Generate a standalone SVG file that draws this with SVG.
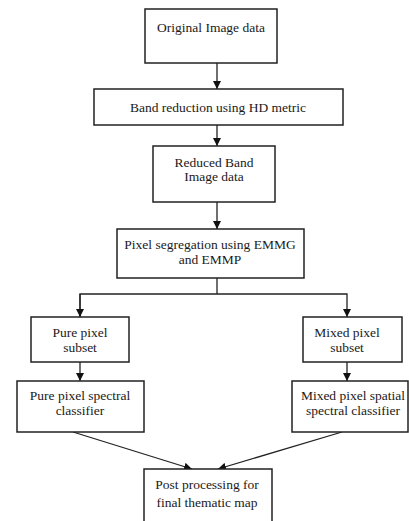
<svg xmlns="http://www.w3.org/2000/svg" width="409" height="521" viewBox="0 0 409 521">
<style>
.box{fill:#fff;stroke:#222;stroke-width:1.5}
.t{font-family:'Liberation Serif','Times New Roman',Times,serif;font-size:13.5px;fill:#1a1a1a;text-anchor:middle}
.c{fill:none;stroke:#222;stroke-width:1.3}
</style>
<defs>
<marker id="ah" viewBox="0 0 10 10" refX="10" refY="5" markerWidth="8" markerHeight="8" markerUnits="userSpaceOnUse" orient="auto">
<path d="M0,0 L10,5 L0,10 z" fill="#111"/>
</marker>
</defs>
<rect width="409" height="521" fill="#fff"/>
<g id="connectors">
<line class="c" x1="217" y1="63" x2="217" y2="89" marker-end="url(#ah)"/>
<line class="c" x1="217" y1="125" x2="217" y2="146" marker-end="url(#ah)"/>
<line class="c" x1="217" y1="202" x2="217" y2="229" marker-end="url(#ah)"/>
<line class="c" x1="217" y1="278" x2="217" y2="294"/>
<polyline class="c" points="80,317 80,294 347,294 347,317" marker-end="url(#ah)"/>
<line class="c" x1="80" y1="294" x2="80" y2="317" marker-end="url(#ah)"/>
<line class="c" x1="80" y1="362" x2="80" y2="381" marker-end="url(#ah)"/>
<line class="c" x1="347" y1="362" x2="347" y2="381" marker-end="url(#ah)"/>
<line class="c" x1="73" y1="432" x2="192" y2="469" marker-end="url(#ah)"/>
<line class="c" x1="342" y1="432" x2="218" y2="469" marker-end="url(#ah)"/>
</g>
<g id="n1"><rect class="box" x="145" y="9" width="132" height="54"/><text class="t" x="211" y="32">Original Image data</text></g>
<g id="n2"><rect class="box" x="94" y="89" width="249" height="36"/><text class="t" x="218" y="112">Band reduction using HD metric</text></g>
<g id="n3"><rect class="box" x="153" y="146" width="122" height="56"/><text class="t" x="214" y="167">Reduced Band</text><text class="t" x="214" y="181">Image data</text></g>
<g id="n4"><rect class="box" x="117" y="229" width="187" height="49"/><text class="t" x="210" y="249">Pixel segregation using EMMG</text><text class="t" x="210" y="264">and EMMP</text></g>
<g id="n5"><rect class="box" x="31" y="317" width="98" height="45"/><text class="t" x="80" y="337">Pure pixel</text><text class="t" x="80" y="352">subset</text></g>
<g id="n6"><rect class="box" x="17" y="381" width="127" height="51"/><text class="t" x="80" y="400">Pure pixel spectral</text><text class="t" x="80" y="415">classifier</text></g>
<g id="n7"><rect class="box" x="303" y="317" width="99" height="45"/><text class="t" x="347" y="337">Mixed pixel</text><text class="t" x="347" y="352">subset</text></g>
<g id="n8"><rect class="box" x="292" y="381" width="116" height="51"/><text class="t" x="353" y="400">Mixed pixel spatial</text><text class="t" x="353" y="415">spectral classifier</text></g>
<g id="n9"><rect class="box" x="144" y="469" width="128" height="60"/><text class="t" x="207" y="489">Post processing for</text><text class="t" x="207" y="507">final thematic map</text></g>
</svg>
